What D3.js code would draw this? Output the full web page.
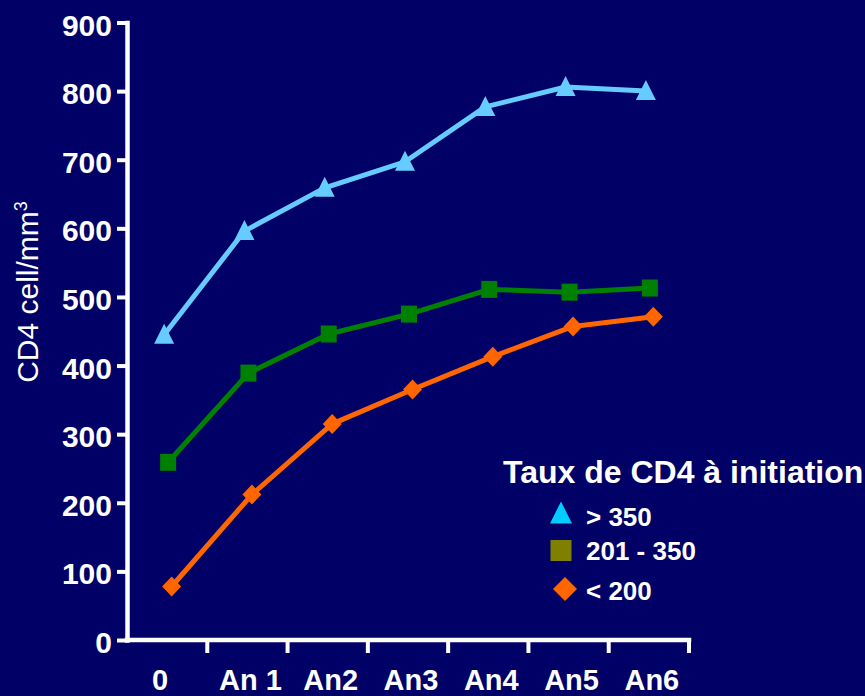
<!DOCTYPE html>
<html>
<head>
<meta charset="utf-8">
<script src="https://cdn.jsdelivr.net/npm/d3@7"></script>
<style>
  html, body { margin: 0; padding: 0; background: #000066; }
  svg { display: block; }
  text { font-family: "Liberation Sans", Arial, sans-serif; fill: #ffffff; }
</style>
</head>
<body>
<svg id="chart" width="865" height="696"></svg>
<script>
// Periods after treatment start
const periods = ["0", "An 1", "An2", "An3", "An4", "An5", "An6"];

// Mean CD4 count (cells/mm3) by CD4 level at initiation
const above350 = [445, 596, 659, 697, 777, 806, 800];
const mid201to350 = [259, 389, 446, 475, 511, 507, 513];
const below200 = [78, 212, 315, 365, 413, 457, 471];

const yTicks = [0, 100, 200, 300, 400, 500, 600, 700, 800, 900];
const seriesNames = ["> 350", "201 - 350", "< 200"];
const legendTitle = "Taux de CD4 à initiation";
const yTitle = "CD4 cell/mm";
const yTitleExponent = "3";

const svg = d3.select("#chart");
const W = 865, H = 696;

svg.append("rect").attr("width", W).attr("height", H).attr("fill", "#000066");

const x = d3.scaleBand().domain(periods).range([127, 689]).padding(0);
const y = d3.scaleLinear().domain([0, 900]).range([640, 22.5]);

// Series styling: line colour, marker shape, small horizontal offset
const shapes = {
  triangle: "M0,-11L10,9L-10,9Z",
  square: "M-8,-8.5L8,-8.5L8,8.5L-8,8.5Z",
  diamond: "M0,-10L9.5,0L0,10L-9.5,0Z"
};
const series = [
  { name: seriesNames[0], values: above350, color: "#66CCFF", shape: "triangle", dx: -3, legendColor: "#00CCFF" },
  { name: seriesNames[1], values: mid201to350, color: "#008000", shape: "square", dx: 1, legendColor: "#808000" },
  { name: seriesNames[2], values: below200, color: "#FF6600", shape: "diamond", dx: 4.5, legendColor: "#FF6600" }
];

// Y axis
const yAxis = d3.axisLeft(y).tickValues(yTicks).tickSize(10).tickSizeOuter(0).tickPadding(5);
const gy = svg.append("g").attr("transform", "translate(127,0)").call(yAxis);
gy.select(".domain").attr("stroke", "#fff").attr("stroke-width", 4.5).attr("stroke-linecap", "square");
gy.selectAll(".tick line").attr("stroke", "#fff").attr("stroke-width", 4);
gy.selectAll(".tick text")
  .attr("fill", "#fff")
  .attr("font-size", 30)
  .attr("font-weight", "bold")
  .attr("font-family", "'Liberation Sans', Arial, sans-serif")
  .attr("dy", "0.42em");

// X axis: labels centred in each band, ticks at band boundaries
const gx = svg.append("g").attr("transform", "translate(0,640)");
gx.append("line")
  .attr("x1", x.range()[0]).attr("x2", x.range()[1])
  .attr("stroke", "#fff").attr("stroke-width", 4.5).attr("stroke-linecap", "square");
gx.selectAll("line.tick")
  .data(periods)
  .join("line")
  .attr("class", "tick")
  .attr("x1", d => x(d) + x.bandwidth())
  .attr("x2", d => x(d) + x.bandwidth())
  .attr("y1", 0).attr("y2", 13)
  .attr("stroke", "#fff").attr("stroke-width", 4);
gx.selectAll("text")
  .data(periods)
  .join("text")
  .attr("x", d => x(d) + x.bandwidth() / 2 + (d === "0" ? -7 : 3))
  .attr("y", 50)
  .attr("text-anchor", "middle")
  .attr("font-size", 29)
  .attr("font-weight", "bold")
  .text(d => d);

// Y axis title with superscript exponent
const yt = svg.append("text")
  .attr("transform", "translate(38,292) rotate(-90)")
  .attr("text-anchor", "middle")
  .attr("font-size", 30)
  .text(yTitle);
yt.append("tspan")
  .attr("font-size", 18)
  .attr("dy", -11)
  .text(yTitleExponent);

// Lines and markers
const line = d3.line();
series.forEach(s => {
  const pts = s.values.map((v, i) => [x(periods[i]) + x.bandwidth() / 2 + s.dx, y(v)]);
  svg.append("path")
    .attr("d", line(pts))
    .attr("fill", "none")
    .attr("stroke", s.color)
    .attr("stroke-width", 5)
    .attr("stroke-linejoin", "round");
  svg.selectAll(null)
    .data(pts)
    .join("path")
    .attr("transform", p => `translate(${p[0]},${p[1]})`)
    .attr("d", shapes[s.shape])
    .attr("fill", s.color);
});

// Legend
const legend = svg.append("g");
legend.append("text")
  .attr("x", 503).attr("y", 482.5)
  .attr("font-size", 32)
  .attr("font-weight", "bold")
  .text(legendTitle);

const legendShapes = {
  triangle: "M0,-11L11,11L-11,11Z",
  square: "M-10.5,-10.5L10.5,-10.5L10.5,10.5L-10.5,10.5Z",
  diamond: "M0,-12L12,0L0,12L-12,0Z"
};
const legendRows = [
  { cx: 561, cy: 512.5, ty: 526 },
  { cx: 561, cy: 550.5, ty: 560 },
  { cx: 565, cy: 589, ty: 600 }
];
series.forEach((s, i) => {
  const r = legendRows[i];
  legend.append("path")
    .attr("transform", `translate(${r.cx},${r.cy})`)
    .attr("d", legendShapes[s.shape])
    .attr("fill", s.legendColor);
  legend.append("text")
    .attr("x", 586).attr("y", r.ty)
    .attr("font-size", 26)
    .attr("font-weight", "bold")
    .text(s.name);
});
</script>
</body>
</html>
